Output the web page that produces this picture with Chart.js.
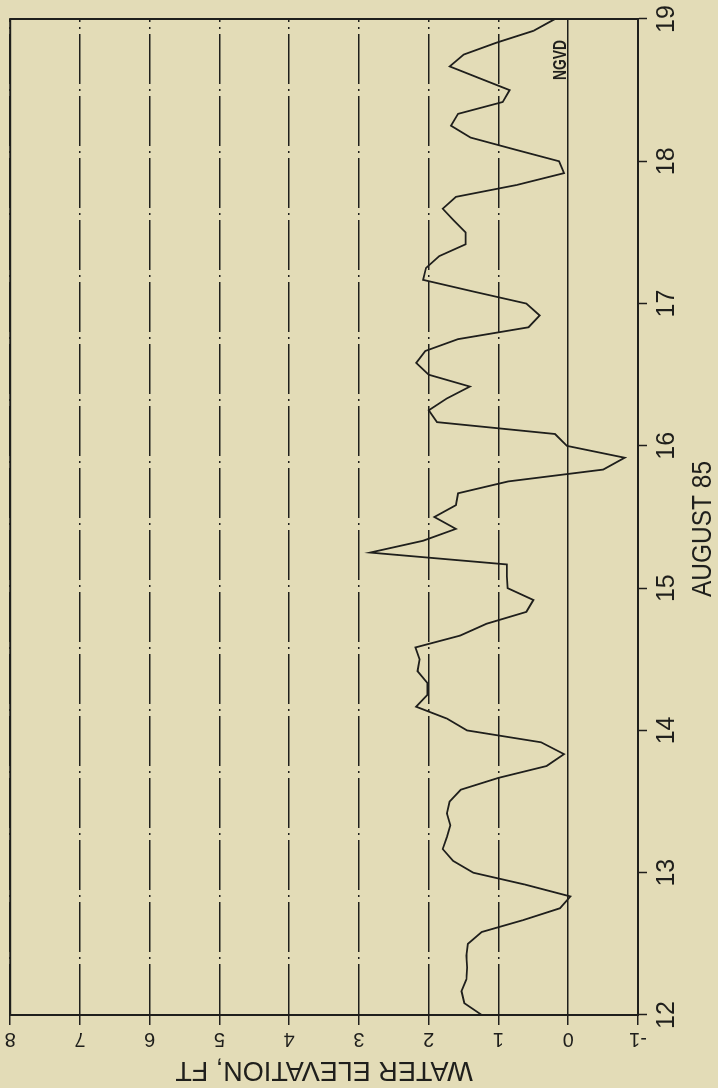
<!DOCTYPE html>
<html>
<head>
<meta charset="utf-8">
<script src="https://cdn.jsdelivr.net/npm/chart.js@4/dist/chart.umd.min.js"></script>
<style>
  html, body { margin: 0; padding: 0; width: 718px; height: 1088px; overflow: hidden; background: #e3dcb7; }
  /* the plot is laid out landscape and turned a quarter turn counter-clockwise onto the page */
  #sheet { position: absolute; left: 0; top: 0; width: 1088px; height: 718px;
           transform-origin: 0 0; transform: translateY(1088px) rotate(-90deg); }
  canvas { display: block; }
</style>
</head>
<body>
<div id="sheet"><canvas id="stage" width="1088" height="718"></canvas></div>
<script>
// Water elevation record, August 12-19 1985, sampled every 2 hours
const hoursFromAug12 = [
  0, 2, 4, 6, 8, 10, 12, 14, 16, 18, 20, 22,
  24, 26, 28, 30, 32, 34, 36, 38, 40, 42, 44, 46,
  48, 50, 52, 54, 56, 58, 60, 62, 64, 66, 68, 70,
  72, 74, 76, 78, 80, 82, 84, 86, 88, 90, 92, 94,
  96, 98, 100, 102, 104, 106, 108, 110, 112, 114, 116, 118,
  120, 122, 124, 126, 128, 130, 132, 134, 136, 138, 140, 142,
  144, 146, 148, 150, 152, 154, 156, 158, 160, 162, 164, 166,
  168
];
const elevationFt = [
  1.24, 1.49, 1.53, 1.46, 1.45, 1.46, 1.44, 1.24, 0.65, 0.12,
  -0.03, 0.62, 1.36, 1.65, 1.80, 1.74, 1.69, 1.74, 1.70, 1.54,
  1.00, 0.31, 0.06, 0.39, 1.45, 1.74, 2.18, 2.02, 2.02, 2.16,
  2.13, 2.19, 1.55, 1.17, 0.60, 0.50, 0.87, 0.88, 0.88, 2.84,
  2.08, 1.61, 1.92, 1.61, 1.58, 0.86, -0.50, -0.81, 0.02, 0.19,
  1.88, 2.00, 1.74, 1.41, 2.00, 2.18, 2.05, 1.58, 0.57, 0.41,
  0.60, 1.35, 2.08, 2.04, 1.85, 1.47, 1.47, 1.64, 1.80, 1.61,
  0.74, 0.06, 0.13, 0.77, 1.40, 1.68, 1.58, 0.94, 0.84, 1.27,
  1.70, 1.50, 1.03, 0.50, 0.19
];
const dayTicks = [12, 13, 14, 15, 16, 17, 18, 19];
const elevationTicks = [-1, 0, 1, 2, 3, 4, 5, 6, 7, 8];
const dayAxisTitle = 'AUGUST 85';
const elevationAxisTitle = 'WATER ELEVATION, FT';
const datumLabel = 'NGVD';

const INK = '#1f1f1c';
const FONT = '"Liberation Sans", Arial, sans-serif';

// frame, rotated elevation labels, axis titles and datum tag
const plotterText = {
  id: 'plotterText',
  afterDraw(chart) {
    const { ctx, chartArea: a, scales: { x, y } } = chart;
    ctx.save();
    ctx.strokeStyle = INK;
    ctx.lineWidth = 2;
    ctx.strokeRect(a.left, a.top, a.right - a.left, a.bottom - a.top);

    ctx.fillStyle = INK;
    ctx.textAlign = 'center';
    ctx.textBaseline = 'middle';
    ctx.font = '20px ' + FONT;
    elevationTicks.forEach(v => {
      ctx.save();
      ctx.translate(a.left - 25, y.getPixelForValue(v));
      ctx.rotate(-Math.PI / 2);
      ctx.fillText(String(v), 0, 1);
      ctx.restore();
    });

    ctx.font = '27px ' + FONT;
    ctx.save();
    ctx.translate(18, (a.top + a.bottom) / 2);
    ctx.rotate(-Math.PI / 2);
    ctx.fillText(elevationAxisTitle, 0, 1, 302);
    ctx.restore();

    ctx.fillText(dayAxisTitle, (a.left + a.right) / 2 - 12, 704, 136);

    ctx.font = 'bold 18px ' + FONT;
    ctx.textAlign = 'right';
    ctx.textBaseline = 'alphabetic';
    ctx.fillText(datumLabel, a.right - 21, y.getPixelForValue(0) - 2, 40);
    ctx.restore();
  }
};

new Chart(document.getElementById('stage'), {
  type: 'line',
  data: {
    datasets: [{
      data: hoursFromAug12.map((h, i) => ({ x: dayTicks[0] + h / 24, y: elevationFt[i] })),
      borderColor: INK,
      borderWidth: 1.8,
      pointRadius: 0,
      tension: 0,
      fill: false
    }]
  },
  options: {
    responsive: false,
    animation: false,
    devicePixelRatio: 1,
    layout: { padding: { top: 10, right: 19, left: 0, bottom: 0 } },
    plugins: { legend: { display: false }, tooltip: { enabled: false } },
    scales: {
      x: {
        type: 'linear',
        position: 'bottom',
        min: dayTicks[0],
        max: dayTicks[dayTicks.length - 1],
        afterBuildTicks: s => { s.ticks = dayTicks.map(v => ({ value: v })); },
        afterFit: s => { s.height = 80; },
        ticks: { color: INK, font: { family: FONT, size: 25 }, padding: 5, maxRotation: 0,
                 callback: v => String(v) },
        grid: { drawOnChartArea: false, drawTicks: true, tickLength: 9, tickColor: INK, tickWidth: 1.5 },
        border: { color: INK, width: 2 }
      },
      y: {
        type: 'linear',
        position: 'left',
        min: elevationTicks[0],
        max: elevationTicks[elevationTicks.length - 1],
        afterBuildTicks: s => { s.ticks = elevationTicks.map(v => ({ value: v })); },
        afterFit: s => { s.width = 73; },
        ticks: { color: 'rgba(0,0,0,0)', font: { size: 12 } },
        grid: { color: INK, lineWidth: 1.5, drawTicks: true, tickLength: 10, tickColor: INK, tickWidth: 1.5 },
        border: {
          color: INK, width: 2,
          dash: ctx => (ctx.tick && ctx.tick.value === 0) ? [] : [50, 5, 2, 5]
        }
      }
    }
  },
  plugins: [plotterText]
});
</script>
</body>
</html>
